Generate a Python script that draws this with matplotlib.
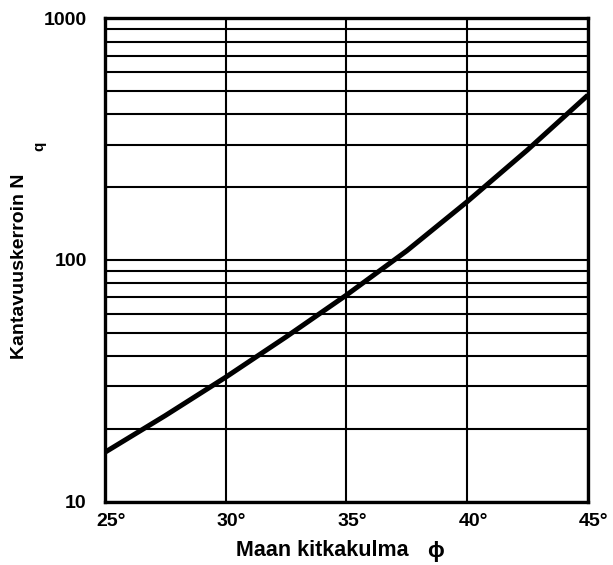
import numpy as np
import matplotlib.pyplot as plt
from matplotlib.ticker import FixedLocator, LogLocator, NullFormatter
from matplotlib.transforms import ScaledTranslation

plt.rcParams['font.family'] = ['Liberation Sans', 'DejaVu Sans']

# friction angle (deg) and bearing capacity factor Nq
phi = [25, 27.5, 30, 32.5, 35, 37.5, 40, 42.5, 45]
nq = [16, 22.7, 32.7, 48, 71.5, 109, 174, 285, 480]

x_ticks = [25, 30, 35, 40, 45]
x_labels = ['25°', '30°', '35°', '40°', '45°']
y_ticks = [10, 100, 1000]
y_labels = ['10', '100', '1000']

fig = plt.figure(figsize=(6.13, 5.65), dpi=100)
ax = fig.add_axes([0.171, 0.112, 0.788, 0.856])

ax.plot(phi, nq, color='black', lw=3.6, solid_capstyle='butt')

ax.set_yscale('log')
ax.set_xlim(25, 45)
ax.set_ylim(10, 1000)

ax.xaxis.set_major_locator(FixedLocator(x_ticks))
ax.set_xticklabels(x_labels, fontsize=14, fontweight='bold')
ax.yaxis.set_major_locator(FixedLocator(y_ticks))
ax.yaxis.set_minor_locator(LogLocator(base=10, subs=np.arange(2, 10)))
ax.yaxis.set_minor_formatter(NullFormatter())
ax.set_yticklabels(y_labels, fontsize=14, fontweight='bold')
ax.tick_params(axis='x', which='both', length=0, pad=8)
ax.tick_params(axis='y', which='both', length=0, pad=13)

# nudge the degree labels a little to the right
shift = ScaledTranslation(6 / 100, 0, fig.dpi_scale_trans)
for lbl in ax.get_xticklabels():
    lbl.set_transform(lbl.get_transform() + shift)

ax.grid(True, which='both', axis='y', color='black', lw=1.5)
ax.grid(True, which='major', axis='x', color='black', lw=1.5)

for s in ax.spines.values():
    s.set_linewidth(2.4)

# axis titles
fig.text(0.525, 1 - 551 / 565, 'Maan kitkakulma', fontsize=15.5, fontweight='bold',
         ha='center', va='center')
fig.text(436 / 613, 1 - 552 / 565, 'ϕ', fontsize=16, fontweight='bold',
         ha='center', va='center')
fig.text(20 / 613, 1 - 266 / 565, 'Kantavuuskerroin N', fontsize=14, fontweight='bold',
         rotation=90, ha='center', va='center')
fig.text(39 / 613, 1 - 146 / 565, 'q', fontsize=11, fontweight='bold',
         rotation=90, ha='center', va='center')

fig.savefig('out.png', dpi=100)
